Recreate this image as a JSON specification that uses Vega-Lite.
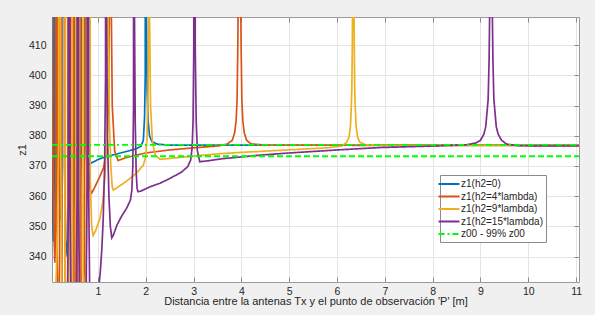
{
"$schema": "https://vega.github.io/schema/vega-lite/v6.json",
"width": 527, "height": 265,
"autosize": {"type": "none"},
"padding": {"left": 52, "top": 17, "right": 16, "bottom": 33},
"background": "#f0f0f0",
"view": {"stroke": "#9a9a9a", "fill": "white"},
"config": {"font": "Liberation Sans", "axis": {"labelFont": "Liberation Sans", "titleFont": "Liberation Sans"}},
"datasets": {
"curves": [
{"s":"z1(h2=0)","x":0.04,"y":404},{"s":"z1(h2=0)","x":0.05,"y":372},{"s":"z1(h2=0)","x":0.06,"y":350},{"s":"z1(h2=0)","x":0.07,"y":345},{"s":"z1(h2=0)","x":0.08,"y":360},{"s":"z1(h2=0)","x":0.095,"y":1500},{"s":"z1(h2=0)","x":0.11,"y":370},{"s":"z1(h2=0)","x":0.125,"y":350},{"s":"z1(h2=0)","x":0.14,"y":348},{"s":"z1(h2=0)","x":0.155,"y":365},{"s":"z1(h2=0)","x":0.175,"y":1500},{"s":"z1(h2=0)","x":0.195,"y":365},{"s":"z1(h2=0)","x":0.21,"y":352},{"s":"z1(h2=0)","x":0.225,"y":355},{"s":"z1(h2=0)","x":0.24,"y":372},{"s":"z1(h2=0)","x":0.27,"y":1500},{"s":"z1(h2=0)","x":0.3,"y":370},{"s":"z1(h2=0)","x":0.33,"y":345},{"s":"z1(h2=0)","x":0.36,"y":340},{"s":"z1(h2=0)","x":0.4,"y":360},{"s":"z1(h2=0)","x":0.46,"y":1500},{"s":"z1(h2=0)","x":0.52,"y":360},{"s":"z1(h2=0)","x":0.56,"y":340},{"s":"z1(h2=0)","x":0.6,"y":345},{"s":"z1(h2=0)","x":0.65,"y":375},{"s":"z1(h2=0)","x":0.7,"y":1500},{"s":"z1(h2=0)","x":0.74,"y":378},{"s":"z1(h2=0)","x":0.765,"y":371},{"s":"z1(h2=0)","x":0.78,"y":370.3},{"s":"z1(h2=0)","x":0.9,"y":371.3},{"s":"z1(h2=0)","x":1.04,"y":372.4},{"s":"z1(h2=0)","x":1.3,"y":373.6},{"s":"z1(h2=0)","x":1.6,"y":374.8},{"s":"z1(h2=0)","x":1.8,"y":375.7},{"s":"z1(h2=0)","x":1.9,"y":376.5},{"s":"z1(h2=0)","x":1.95,"y":378.5},{"s":"z1(h2=0)","x":1.975,"y":386},{"s":"z1(h2=0)","x":1.99,"y":400},{"s":"z1(h2=0)","x":2.0,"y":1500},{"s":"z1(h2=0)","x":2.01,"y":430},{"s":"z1(h2=0)","x":2.03,"y":395},{"s":"z1(h2=0)","x":2.05,"y":385},{"s":"z1(h2=0)","x":2.08,"y":380},{"s":"z1(h2=0)","x":2.13,"y":378},{"s":"z1(h2=0)","x":2.25,"y":377.2},{"s":"z1(h2=0)","x":2.5,"y":376.9},{"s":"z1(h2=0)","x":5,"y":376.85},{"s":"z1(h2=0)","x":11.06,"y":376.9},
{"s":"z1(h2=4*lambda)","x":0.04,"y":420},{"s":"z1(h2=4*lambda)","x":0.06,"y":370},{"s":"z1(h2=4*lambda)","x":0.085,"y":345},{"s":"z1(h2=4*lambda)","x":0.1,"y":338},{"s":"z1(h2=4*lambda)","x":0.115,"y":350},{"s":"z1(h2=4*lambda)","x":0.13,"y":1500},{"s":"z1(h2=4*lambda)","x":0.15,"y":340},{"s":"z1(h2=4*lambda)","x":0.175,"y":300},{"s":"z1(h2=4*lambda)","x":0.2,"y":340},{"s":"z1(h2=4*lambda)","x":0.22,"y":1500},{"s":"z1(h2=4*lambda)","x":0.25,"y":335},{"s":"z1(h2=4*lambda)","x":0.28,"y":290},{"s":"z1(h2=4*lambda)","x":0.31,"y":335},{"s":"z1(h2=4*lambda)","x":0.34,"y":1500},{"s":"z1(h2=4*lambda)","x":0.37,"y":330},{"s":"z1(h2=4*lambda)","x":0.4,"y":280},{"s":"z1(h2=4*lambda)","x":0.43,"y":330},{"s":"z1(h2=4*lambda)","x":0.47,"y":1500},{"s":"z1(h2=4*lambda)","x":0.5,"y":330},{"s":"z1(h2=4*lambda)","x":0.535,"y":280},{"s":"z1(h2=4*lambda)","x":0.57,"y":330},{"s":"z1(h2=4*lambda)","x":0.61,"y":1500},{"s":"z1(h2=4*lambda)","x":0.645,"y":335},{"s":"z1(h2=4*lambda)","x":0.68,"y":300},{"s":"z1(h2=4*lambda)","x":0.72,"y":345},{"s":"z1(h2=4*lambda)","x":0.76,"y":1500},{"s":"z1(h2=4*lambda)","x":0.8,"y":370},{"s":"z1(h2=4*lambda)","x":0.84,"y":362},{"s":"z1(h2=4*lambda)","x":0.87,"y":361},{"s":"z1(h2=4*lambda)","x":0.95,"y":363.5},{"s":"z1(h2=4*lambda)","x":1.04,"y":366.5},{"s":"z1(h2=4*lambda)","x":1.12,"y":369.5},{"s":"z1(h2=4*lambda)","x":1.18,"y":375},{"s":"z1(h2=4*lambda)","x":1.22,"y":390},{"s":"z1(h2=4*lambda)","x":1.245,"y":430},{"s":"z1(h2=4*lambda)","x":1.26,"y":1500},{"s":"z1(h2=4*lambda)","x":1.275,"y":430},{"s":"z1(h2=4*lambda)","x":1.3,"y":390},{"s":"z1(h2=4*lambda)","x":1.35,"y":375},{"s":"z1(h2=4*lambda)","x":1.42,"y":371.8},{"s":"z1(h2=4*lambda)","x":1.6,"y":372.8},{"s":"z1(h2=4*lambda)","x":2.0,"y":374.3},{"s":"z1(h2=4*lambda)","x":2.5,"y":375.3},{"s":"z1(h2=4*lambda)","x":3.0,"y":376.0},{"s":"z1(h2=4*lambda)","x":3.5,"y":376.6},{"s":"z1(h2=4*lambda)","x":3.7,"y":377.2},{"s":"z1(h2=4*lambda)","x":3.81,"y":378.5},{"s":"z1(h2=4*lambda)","x":3.86,"y":381},{"s":"z1(h2=4*lambda)","x":3.89,"y":385},{"s":"z1(h2=4*lambda)","x":3.91,"y":392},{"s":"z1(h2=4*lambda)","x":3.925,"y":409},{"s":"z1(h2=4*lambda)","x":3.935,"y":427},{"s":"z1(h2=4*lambda)","x":3.945,"y":500},{"s":"z1(h2=4*lambda)","x":3.96,"y":2000},{"s":"z1(h2=4*lambda)","x":3.975,"y":500},{"s":"z1(h2=4*lambda)","x":3.985,"y":427},{"s":"z1(h2=4*lambda)","x":3.995,"y":409},{"s":"z1(h2=4*lambda)","x":4.01,"y":392},{"s":"z1(h2=4*lambda)","x":4.03,"y":385},{"s":"z1(h2=4*lambda)","x":4.06,"y":381},{"s":"z1(h2=4*lambda)","x":4.11,"y":378.5},{"s":"z1(h2=4*lambda)","x":4.2,"y":377.3},{"s":"z1(h2=4*lambda)","x":4.5,"y":376.9},{"s":"z1(h2=4*lambda)","x":8,"y":376.8},{"s":"z1(h2=4*lambda)","x":11.06,"y":376.8},
{"s":"z1(h2=9*lambda)","x":0.04,"y":330},{"s":"z1(h2=9*lambda)","x":0.08,"y":318},{"s":"z1(h2=9*lambda)","x":0.11,"y":325},{"s":"z1(h2=9*lambda)","x":0.15,"y":345},{"s":"z1(h2=9*lambda)","x":0.18,"y":380},{"s":"z1(h2=9*lambda)","x":0.2,"y":1500},{"s":"z1(h2=9*lambda)","x":0.22,"y":380},{"s":"z1(h2=9*lambda)","x":0.245,"y":330},{"s":"z1(h2=9*lambda)","x":0.275,"y":300},{"s":"z1(h2=9*lambda)","x":0.31,"y":330},{"s":"z1(h2=9*lambda)","x":0.35,"y":1500},{"s":"z1(h2=9*lambda)","x":0.39,"y":330},{"s":"z1(h2=9*lambda)","x":0.425,"y":300},{"s":"z1(h2=9*lambda)","x":0.46,"y":330},{"s":"z1(h2=9*lambda)","x":0.5,"y":1500},{"s":"z1(h2=9*lambda)","x":0.54,"y":330},{"s":"z1(h2=9*lambda)","x":0.575,"y":305},{"s":"z1(h2=9*lambda)","x":0.61,"y":335},{"s":"z1(h2=9*lambda)","x":0.65,"y":1500},{"s":"z1(h2=9*lambda)","x":0.69,"y":335},{"s":"z1(h2=9*lambda)","x":0.725,"y":318},{"s":"z1(h2=9*lambda)","x":0.76,"y":345},{"s":"z1(h2=9*lambda)","x":0.8,"y":1500},{"s":"z1(h2=9*lambda)","x":0.84,"y":365},{"s":"z1(h2=9*lambda)","x":0.87,"y":350},{"s":"z1(h2=9*lambda)","x":0.9,"y":347},{"s":"z1(h2=9*lambda)","x":0.95,"y":348.5},{"s":"z1(h2=9*lambda)","x":1.04,"y":352.5},{"s":"z1(h2=9*lambda)","x":1.1,"y":358},{"s":"z1(h2=9*lambda)","x":1.15,"y":367},{"s":"z1(h2=9*lambda)","x":1.18,"y":380},{"s":"z1(h2=9*lambda)","x":1.195,"y":420},{"s":"z1(h2=9*lambda)","x":1.205,"y":1500},{"s":"z1(h2=9*lambda)","x":1.215,"y":420},{"s":"z1(h2=9*lambda)","x":1.24,"y":385},{"s":"z1(h2=9*lambda)","x":1.27,"y":370},{"s":"z1(h2=9*lambda)","x":1.3,"y":363},{"s":"z1(h2=9*lambda)","x":1.32,"y":362},{"s":"z1(h2=9*lambda)","x":1.4,"y":362.8},{"s":"z1(h2=9*lambda)","x":1.6,"y":365},{"s":"z1(h2=9*lambda)","x":1.8,"y":367.5},{"s":"z1(h2=9*lambda)","x":1.95,"y":370.3},{"s":"z1(h2=9*lambda)","x":2.0,"y":373},{"s":"z1(h2=9*lambda)","x":2.03,"y":380},{"s":"z1(h2=9*lambda)","x":2.05,"y":395},{"s":"z1(h2=9*lambda)","x":2.06,"y":420},{"s":"z1(h2=9*lambda)","x":2.07,"y":1500},{"s":"z1(h2=9*lambda)","x":2.08,"y":420},{"s":"z1(h2=9*lambda)","x":2.1,"y":390},{"s":"z1(h2=9*lambda)","x":2.14,"y":378},{"s":"z1(h2=9*lambda)","x":2.2,"y":373.5},{"s":"z1(h2=9*lambda)","x":2.3,"y":372.2},{"s":"z1(h2=9*lambda)","x":2.5,"y":372.5},{"s":"z1(h2=9*lambda)","x":3.0,"y":373.3},{"s":"z1(h2=9*lambda)","x":3.5,"y":374},{"s":"z1(h2=9*lambda)","x":4.0,"y":374.5},{"s":"z1(h2=9*lambda)","x":4.6,"y":375},{"s":"z1(h2=9*lambda)","x":5.2,"y":375.5},{"s":"z1(h2=9*lambda)","x":5.8,"y":376},{"s":"z1(h2=9*lambda)","x":6.1,"y":376.6},{"s":"z1(h2=9*lambda)","x":6.2,"y":377.8},{"s":"z1(h2=9*lambda)","x":6.25,"y":379.5},{"s":"z1(h2=9*lambda)","x":6.28,"y":383},{"s":"z1(h2=9*lambda)","x":6.3,"y":390},{"s":"z1(h2=9*lambda)","x":6.31,"y":396},{"s":"z1(h2=9*lambda)","x":6.32,"y":410},{"s":"z1(h2=9*lambda)","x":6.325,"y":425},{"s":"z1(h2=9*lambda)","x":6.34,"y":2000},{"s":"z1(h2=9*lambda)","x":6.355,"y":425},{"s":"z1(h2=9*lambda)","x":6.36,"y":410},{"s":"z1(h2=9*lambda)","x":6.37,"y":396},{"s":"z1(h2=9*lambda)","x":6.38,"y":390},{"s":"z1(h2=9*lambda)","x":6.4,"y":383},{"s":"z1(h2=9*lambda)","x":6.43,"y":379.5},{"s":"z1(h2=9*lambda)","x":6.48,"y":377.8},{"s":"z1(h2=9*lambda)","x":6.6,"y":377},{"s":"z1(h2=9*lambda)","x":7,"y":376.8},{"s":"z1(h2=9*lambda)","x":11.06,"y":376.8},
{"s":"z1(h2=15*lambda)","x":0.3,"y":250},{"s":"z1(h2=15*lambda)","x":0.36,"y":320},{"s":"z1(h2=15*lambda)","x":0.385,"y":360},{"s":"z1(h2=15*lambda)","x":0.4,"y":1500},{"s":"z1(h2=15*lambda)","x":0.415,"y":360},{"s":"z1(h2=15*lambda)","x":0.44,"y":320},{"s":"z1(h2=15*lambda)","x":0.49,"y":250},{"s":"z1(h2=15*lambda)","x":0.54,"y":320},{"s":"z1(h2=15*lambda)","x":0.565,"y":360},{"s":"z1(h2=15*lambda)","x":0.58,"y":1500},{"s":"z1(h2=15*lambda)","x":0.595,"y":360},{"s":"z1(h2=15*lambda)","x":0.62,"y":320},{"s":"z1(h2=15*lambda)","x":0.685,"y":240},{"s":"z1(h2=15*lambda)","x":0.75,"y":320},{"s":"z1(h2=15*lambda)","x":0.775,"y":365},{"s":"z1(h2=15*lambda)","x":0.79,"y":1500},{"s":"z1(h2=15*lambda)","x":0.805,"y":365},{"s":"z1(h2=15*lambda)","x":0.83,"y":325},{"s":"z1(h2=15*lambda)","x":0.88,"y":290},{"s":"z1(h2=15*lambda)","x":0.93,"y":280},{"s":"z1(h2=15*lambda)","x":0.99,"y":320},{"s":"z1(h2=15*lambda)","x":1.02,"y":330},{"s":"z1(h2=15*lambda)","x":1.05,"y":335},{"s":"z1(h2=15*lambda)","x":1.08,"y":342},{"s":"z1(h2=15*lambda)","x":1.11,"y":352},{"s":"z1(h2=15*lambda)","x":1.14,"y":370},{"s":"z1(h2=15*lambda)","x":1.16,"y":400},{"s":"z1(h2=15*lambda)","x":1.17,"y":1500},{"s":"z1(h2=15*lambda)","x":1.18,"y":420},{"s":"z1(h2=15*lambda)","x":1.2,"y":380},{"s":"z1(h2=15*lambda)","x":1.23,"y":360},{"s":"z1(h2=15*lambda)","x":1.26,"y":350},{"s":"z1(h2=15*lambda)","x":1.29,"y":346.2},{"s":"z1(h2=15*lambda)","x":1.32,"y":347},{"s":"z1(h2=15*lambda)","x":1.4,"y":350.5},{"s":"z1(h2=15*lambda)","x":1.5,"y":353.5},{"s":"z1(h2=15*lambda)","x":1.6,"y":356},{"s":"z1(h2=15*lambda)","x":1.68,"y":358.7},{"s":"z1(h2=15*lambda)","x":1.71,"y":362},{"s":"z1(h2=15*lambda)","x":1.73,"y":370},{"s":"z1(h2=15*lambda)","x":1.745,"y":390},{"s":"z1(h2=15*lambda)","x":1.755,"y":1500},{"s":"z1(h2=15*lambda)","x":1.765,"y":420},{"s":"z1(h2=15*lambda)","x":1.78,"y":385},{"s":"z1(h2=15*lambda)","x":1.8,"y":368},{"s":"z1(h2=15*lambda)","x":1.82,"y":362.5},{"s":"z1(h2=15*lambda)","x":1.84,"y":361.5},{"s":"z1(h2=15*lambda)","x":1.9,"y":361.7},{"s":"z1(h2=15*lambda)","x":2.09,"y":363.1},{"s":"z1(h2=15*lambda)","x":2.3,"y":364.3},{"s":"z1(h2=15*lambda)","x":2.51,"y":365.9},{"s":"z1(h2=15*lambda)","x":2.75,"y":368},{"s":"z1(h2=15*lambda)","x":2.88,"y":369.8},{"s":"z1(h2=15*lambda)","x":2.94,"y":372},{"s":"z1(h2=15*lambda)","x":2.97,"y":376},{"s":"z1(h2=15*lambda)","x":2.99,"y":385},{"s":"z1(h2=15*lambda)","x":3.005,"y":410},{"s":"z1(h2=15*lambda)","x":3.02,"y":1500},{"s":"z1(h2=15*lambda)","x":3.035,"y":410},{"s":"z1(h2=15*lambda)","x":3.055,"y":385},{"s":"z1(h2=15*lambda)","x":3.08,"y":375},{"s":"z1(h2=15*lambda)","x":3.13,"y":371.4},{"s":"z1(h2=15*lambda)","x":3.3,"y":371.7},{"s":"z1(h2=15*lambda)","x":3.6,"y":372.4},{"s":"z1(h2=15*lambda)","x":4.0,"y":373},{"s":"z1(h2=15*lambda)","x":4.4,"y":373.6},{"s":"z1(h2=15*lambda)","x":5,"y":374.3},{"s":"z1(h2=15*lambda)","x":6,"y":375.3},{"s":"z1(h2=15*lambda)","x":6.9,"y":376.1},{"s":"z1(h2=15*lambda)","x":8,"y":376.6},{"s":"z1(h2=15*lambda)","x":8.7,"y":377},{"s":"z1(h2=15*lambda)","x":8.9,"y":377.6},{"s":"z1(h2=15*lambda)","x":9.0,"y":378.5},{"s":"z1(h2=15*lambda)","x":9.07,"y":380.5},{"s":"z1(h2=15*lambda)","x":9.11,"y":383},{"s":"z1(h2=15*lambda)","x":9.16,"y":392},{"s":"z1(h2=15*lambda)","x":9.18,"y":405},{"s":"z1(h2=15*lambda)","x":9.19,"y":418},{"s":"z1(h2=15*lambda)","x":9.2,"y":440},{"s":"z1(h2=15*lambda)","x":9.22,"y":2000},{"s":"z1(h2=15*lambda)","x":9.24,"y":440},{"s":"z1(h2=15*lambda)","x":9.25,"y":418},{"s":"z1(h2=15*lambda)","x":9.26,"y":405},{"s":"z1(h2=15*lambda)","x":9.28,"y":392},{"s":"z1(h2=15*lambda)","x":9.33,"y":383},{"s":"z1(h2=15*lambda)","x":9.37,"y":380.5},{"s":"z1(h2=15*lambda)","x":9.44,"y":378.5},{"s":"z1(h2=15*lambda)","x":9.55,"y":377.2},{"s":"z1(h2=15*lambda)","x":9.8,"y":376.7},{"s":"z1(h2=15*lambda)","x":11.06,"y":376.6},
{"s":"z00 - 99% z00","x":0.04,"y":377.0},{"s":"z00 - 99% z00","x":11.06,"y":377.0}
],
"low": [{"x":0.04,"y":373.23},{"x":11.06,"y":373.23}]
},
"layer": [
{
"data": {"name": "curves"},
"mark": {"type": "line", "clip": true, "strokeWidth": 1.7},
"encoding": {
"x": {"field": "x", "type": "quantitative", "scale": {"domain": [0.04, 11.06], "nice": false, "zero": false},
 "axis": {"values": [1,2,3,4,5,6,7,8,9,10,11], "grid": true, "gridColor": "#e4e4e4", "domain": false, "tickSize": -5, "tickColor": "#8a8a8a", "labelFontSize": 10.5, "labelColor": "#262626", "labelPadding": 9, "title": "Distancia entre la antenas Tx y el punto de observación 'P' [m]", "titleFontSize": 11, "titleFontWeight": "normal", "titleColor": "#262626", "titlePadding": -1}},
"y": {"field": "y", "type": "quantitative", "scale": {"domain": [331.6, 419.3], "nice": false, "zero": false},
 "axis": {"values": [340,350,360,370,380,390,400,410], "grid": true, "gridColor": "#e4e4e4", "domain": false, "tickSize": -5, "tickColor": "#8a8a8a", "labelFontSize": 10.5, "labelColor": "#262626", "labelPadding": 11, "title": "z1", "titleFontSize": 11, "titleFontWeight": "normal", "titleColor": "#262626", "titlePadding": 1}},
"color": {"field": "s", "type": "nominal",
 "scale": {"domain": ["z1(h2=0)","z1(h2=4*lambda)","z1(h2=9*lambda)","z1(h2=15*lambda)","z00 - 99% z00"], "range": ["#0072BD","#D95319","#EDB120","#7E2F8E","#00FF00"]},
 "legend": {"title": null, "orient": "none", "legendX": 388, "legendY": 158, "symbolType": "M-2.1,0H2.1", "symbolSize": 100, "symbolStrokeWidth": 2, "labelFontSize": 10, "labelColor": "#262626", "strokeColor": "#8a8a8a", "fillColor": "white", "padding": 3, "rowPadding": 1.5, "labelOffset": 6, "labelLimit": 200}},
"strokeDash": {"field": "s", "type": "nominal",
 "scale": {"domain": ["z1(h2=0)","z1(h2=4*lambda)","z1(h2=9*lambda)","z1(h2=15*lambda)","z00 - 99% z00"], "range": [[1,0],[1,0],[1,0],[1,0],[6,3,2,3]]},
 "legend": {"title": null, "orient": "none", "legendX": 388, "legendY": 158, "symbolType": "M-2.1,0H2.1", "symbolSize": 100, "symbolStrokeWidth": 2, "labelFontSize": 10, "labelColor": "#262626", "strokeColor": "#8a8a8a", "fillColor": "white", "padding": 3, "rowPadding": 1.5, "labelOffset": 6, "labelLimit": 200}}
}
},
{
"data": {"name": "low"},
"mark": {"type": "line", "clip": true, "color": "#00FF00", "strokeWidth": 2, "strokeDash": [6,3]},
"encoding": {
"x": {"field": "x", "type": "quantitative", "axis": {"orient": "top", "values": [1,2,3,4,5,6,7,8,9,10,11], "labels": false, "grid": false, "domain": false, "tickSize": -5, "tickColor": "#8a8a8a", "title": null}},
"y": {"field": "y", "type": "quantitative", "axis": {"orient": "right", "values": [340,350,360,370,380,390,400,410], "labels": false, "grid": false, "domain": false, "tickSize": -5, "tickColor": "#8a8a8a", "title": null}}
}
}
],
"resolve": {"axis": {"x": "independent", "y": "independent"}}
}
